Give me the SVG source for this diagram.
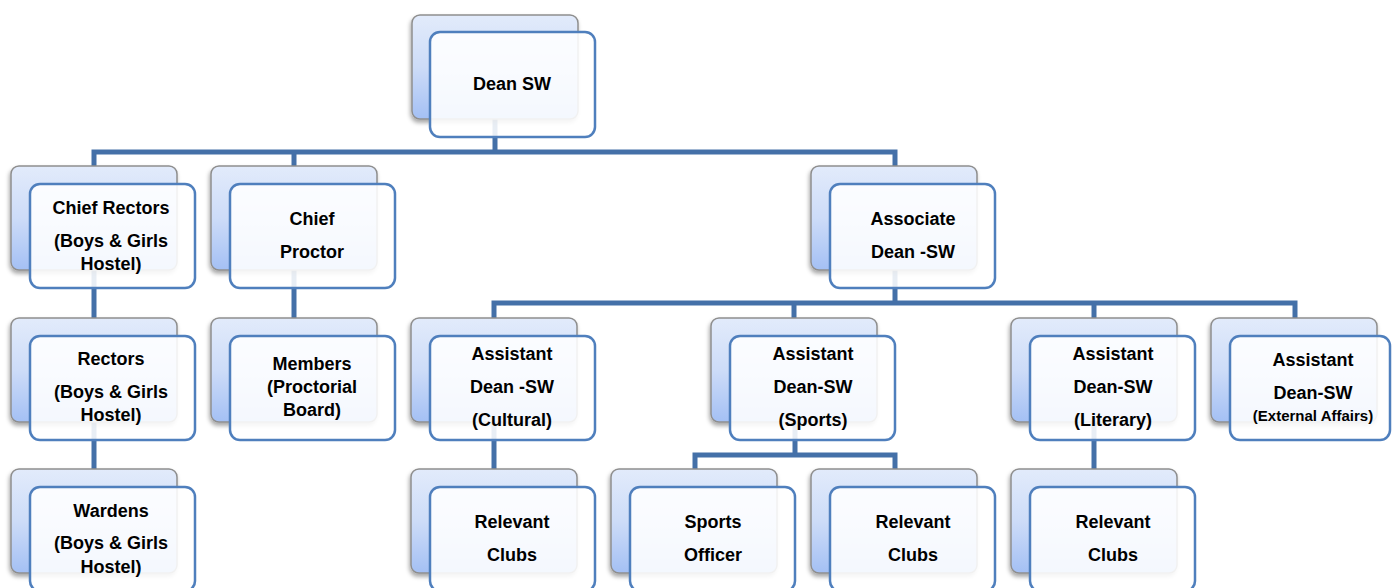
<svg xmlns="http://www.w3.org/2000/svg" width="1392" height="588" viewBox="0 0 1392 588">
<defs>
<linearGradient id="bg" x1="0" y1="0" x2="0" y2="1">
<stop offset="0" stop-color="#e2ebfb"/>
<stop offset="0.5" stop-color="#cddcf8"/>
<stop offset="1" stop-color="#a4c0f4"/>
</linearGradient>
<filter id="sh" x="-10%" y="-10%" width="125%" height="130%">
<feDropShadow dx="-1" dy="3" stdDeviation="2" flood-color="#000" flood-opacity="0.35"/>
</filter>
<style>
.back{fill:url(#bg);stroke:#8e8e8e;stroke-width:1.5;filter:url(#sh)}
.front{fill:#ffffff;fill-opacity:0.88;stroke:#4f7fbd;stroke-width:2.5}
.t{font-family:"Liberation Sans",Arial,sans-serif;font-weight:bold;font-size:18px;fill:#000;text-anchor:middle}
.s{font-size:15px}
.c{fill:none;stroke:#4470a8;stroke-width:5;stroke-linejoin:miter}
</style>
</defs>
<rect width="1392" height="588" fill="#ffffff"/>
<g id="connectors">
<path class="c" d="M94,166 V152 H895 V166 M495,118 V152 M294,152 V166"/>
<path class="c" d="M94,270 V318 M94,422 V469 M294,270 V318"/>
<path class="c" d="M494,318 V303 H1295 V318 M895,270 V303 M794,303 V318 M1094,303 V318"/>
<path class="c" d="M494,422 V469 M1094,422 V469 M795,422 V455 M695,469 V455 H895 V469"/>
</g>
<g id="dean">
<rect class="back" x="412" y="15" width="166" height="104" rx="8"/>
<rect class="front" x="430" y="32" width="165" height="105" rx="10"/>
<text class="t" x="512" y="90">Dean SW</text>
</g>
<g id="chief-rectors">
<rect class="back" x="11" y="166" width="166" height="104" rx="8"/>
<rect class="front" x="30" y="184" width="165" height="104" rx="10"/>
<text class="t" x="111" y="214">Chief Rectors</text>
<text class="t" x="111" y="247">(Boys &amp; Girls</text>
<text class="t" x="111" y="270">Hostel)</text>
</g>
<g id="chief-proctor">
<rect class="back" x="211" y="166" width="166" height="104" rx="8"/>
<rect class="front" x="230" y="184" width="165" height="104" rx="10"/>
<text class="t" x="312" y="225">Chief</text>
<text class="t" x="312" y="258">Proctor</text>
</g>
<g id="associate-dean">
<rect class="back" x="811" y="166" width="166" height="104" rx="8"/>
<rect class="front" x="830" y="184" width="165" height="104" rx="10"/>
<text class="t" x="913" y="225">Associate</text>
<text class="t" x="913" y="258">Dean -SW</text>
</g>
<g id="rectors">
<rect class="back" x="11" y="318" width="166" height="104" rx="8"/>
<rect class="front" x="30" y="336" width="165" height="104" rx="10"/>
<text class="t" x="111" y="365">Rectors</text>
<text class="t" x="111" y="398">(Boys &amp; Girls</text>
<text class="t" x="111" y="421">Hostel)</text>
</g>
<g id="members">
<rect class="back" x="211" y="318" width="166" height="104" rx="8"/>
<rect class="front" x="230" y="336" width="165" height="104" rx="10"/>
<text class="t" x="312" y="370">Members</text>
<text class="t" x="312" y="393">(Proctorial</text>
<text class="t" x="312" y="416">Board)</text>
</g>
<g id="asst-cultural">
<rect class="back" x="411" y="318" width="166" height="104" rx="8"/>
<rect class="front" x="430" y="336" width="165" height="104" rx="10"/>
<text class="t" x="512" y="360">Assistant</text>
<text class="t" x="512" y="393">Dean -SW</text>
<text class="t" x="512" y="426">(Cultural)</text>
</g>
<g id="asst-sports">
<rect class="back" x="711" y="318" width="166" height="104" rx="8"/>
<rect class="front" x="730" y="336" width="165" height="104" rx="10"/>
<text class="t" x="813" y="360">Assistant</text>
<text class="t" x="813" y="393">Dean-SW</text>
<text class="t" x="813" y="426">(Sports)</text>
</g>
<g id="asst-literary">
<rect class="back" x="1011" y="318" width="166" height="104" rx="8"/>
<rect class="front" x="1030" y="336" width="165" height="104" rx="10"/>
<text class="t" x="1113" y="360">Assistant</text>
<text class="t" x="1113" y="393">Dean-SW</text>
<text class="t" x="1113" y="426">(Literary)</text>
</g>
<g id="asst-external">
<rect class="back" x="1211" y="318" width="166" height="104" rx="8"/>
<rect class="front" x="1230" y="336" width="160" height="104" rx="10"/>
<text class="t" x="1313" y="366">Assistant</text>
<text class="t" x="1313" y="399">Dean-SW</text>
<text class="t s" x="1313" y="421">(External Affairs)</text>
</g>
<g id="wardens">
<rect class="back" x="11" y="469" width="166" height="104" rx="8"/>
<rect class="front" x="30" y="487" width="165" height="104" rx="10"/>
<text class="t" x="111" y="517">Wardens</text>
<text class="t" x="111" y="549">(Boys &amp; Girls</text>
<text class="t" x="111" y="573">Hostel)</text>
</g>
<g id="clubs-cultural">
<rect class="back" x="411" y="469" width="166" height="104" rx="8"/>
<rect class="front" x="430" y="487" width="165" height="104" rx="10"/>
<text class="t" x="512" y="528">Relevant</text>
<text class="t" x="512" y="561">Clubs</text>
</g>
<g id="sports-officer">
<rect class="back" x="611" y="469" width="166" height="104" rx="8"/>
<rect class="front" x="630" y="487" width="165" height="104" rx="10"/>
<text class="t" x="713" y="528">Sports</text>
<text class="t" x="713" y="561">Officer</text>
</g>
<g id="clubs-sports">
<rect class="back" x="811" y="469" width="166" height="104" rx="8"/>
<rect class="front" x="830" y="487" width="165" height="104" rx="10"/>
<text class="t" x="913" y="528">Relevant</text>
<text class="t" x="913" y="561">Clubs</text>
</g>
<g id="clubs-literary">
<rect class="back" x="1011" y="469" width="166" height="104" rx="8"/>
<rect class="front" x="1030" y="487" width="165" height="104" rx="10"/>
<text class="t" x="1113" y="528">Relevant</text>
<text class="t" x="1113" y="561">Clubs</text>
</g>
</svg>
